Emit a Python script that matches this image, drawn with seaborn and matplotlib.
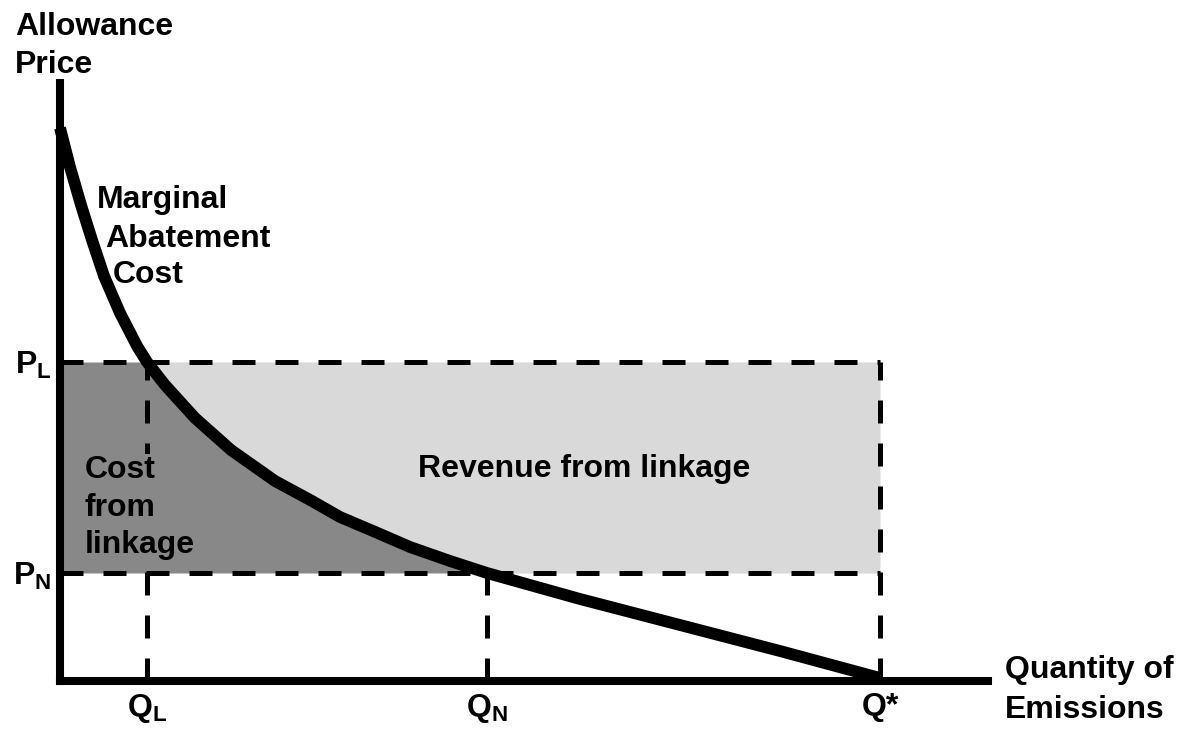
import numpy as np
import seaborn as sns
import matplotlib.pyplot as plt

# marginal abatement cost curve (x = quantity, y = price)
mac_x = [0, 10, 21, 32, 44, 60, 77, 87, 105, 135, 171, 215, 252, 280, 313, 350, 390, 427, 520, 620, 720, 820]
mac_y = [553, 514, 476, 441, 405, 368, 335, 319, 296, 263, 231, 200, 180, 164, 150, 134, 120, 108, 82, 56, 30, 3]

# key levels
Q_L, Q_N, Q_star = 87, 427, 820
P_L, P_N = 319, 108
x_ticks = [Q_L, Q_N, Q_star]
x_labels = [r'$\mathbf{Q_L}$', r'$\mathbf{Q_N}$', 'Q*']
y_ticks = [P_N, P_L]
y_labels = [r'$\mathbf{P_N}$', r'$\mathbf{P_L}$']

sns.set_style("white")
plt.rcParams['font.family'] = ['Liberation Sans', 'DejaVu Sans']
plt.rcParams['font.weight'] = 'bold'
plt.rcParams['text.color'] = 'black'
plt.rcParams['xtick.color'] = 'black'
plt.rcParams['ytick.color'] = 'black'
plt.rcParams['mathtext.fontset'] = 'custom'
plt.rcParams['mathtext.rm'] = 'Liberation Sans:bold'
plt.rcParams['mathtext.bf'] = 'Liberation Sans:bold'
plt.rcParams['mathtext.it'] = 'Liberation Sans:bold'

fig = plt.figure(figsize=(11.83, 7.32), dpi=100)
ax = fig.add_axes([0, 0, 1, 1])
ax.set_xlim(-60, 1123)
ax.set_ylim(-51, 681)

# shaded areas between the two price levels
band = slice(mac_x.index(Q_L), mac_x.index(Q_N) + 1)
bx = np.array(mac_x[band])
by = np.array(mac_y[band])
ax.fill_betweenx(by, 0, bx, color='#888888', lw=0, zorder=1)
ax.fill_betweenx(by, bx, Q_star, color='#d9d9d9', lw=0, zorder=1)

dash = (0, (4.6, 4.0))
ax.hlines([P_L, P_N], 0, Q_star, colors='black', lw=3.6, linestyles=[dash], zorder=2)
ax.vlines([Q_L, Q_star], 0, P_L, colors='black', lw=3.6, linestyles=[dash], zorder=2)
ax.vlines([Q_N], 0, P_N, colors='black', lw=3.6, linestyles=[dash], zorder=2)

sns.lineplot(x=mac_x, y=mac_y, sort=False, color='black', lw=8.5, ax=ax, zorder=3,
             solid_joinstyle='round', solid_capstyle='butt')

# axes as spines through the origin
for s in ['top', 'right']:
    ax.spines[s].set_visible(False)
ax.spines['left'].set_position(('data', 0))
ax.spines['bottom'].set_position(('data', 0))
ax.spines['left'].set_bounds(0, 598)
ax.spines['bottom'].set_bounds(0, 928)
for s in ['left', 'bottom']:
    ax.spines[s].set_linewidth(5.8)
    ax.spines[s].set_color('black')
    ax.spines[s].set_zorder(4)

fs = 23
ax.set_xticks(x_ticks, x_labels)
ax.set_yticks(y_ticks, y_labels)
ax.tick_params(axis='x', length=0, pad=8, labelsize=fs)
ax.tick_params(axis='y', length=0, pad=6, labelsize=fs)

ax.text(-45, 646, 'Allowance', fontsize=fs)
ax.text(-45, 608, 'Price', fontsize=fs)
ax.text(945, 3, 'Quantity of', fontsize=fs)
ax.text(945, -37, 'Emissions', fontsize=fs)
ax.text(37, 473, 'Marginal', fontsize=fs)
ax.text(45, 434, 'Abatement', fontsize=fs)
ax.text(53, 398, 'Cost', fontsize=fs)
ax.text(25, 128, 'Cost\nfrom\nlinkage', fontsize=fs, va='baseline', linespacing=1.32,
        zorder=2.5, bbox=dict(facecolor='#888888', edgecolor='none', pad=1))
ax.text(358, 204, 'Revenue from linkage', fontsize=fs, zorder=5)

fig.savefig('out.png', dpi=100)
